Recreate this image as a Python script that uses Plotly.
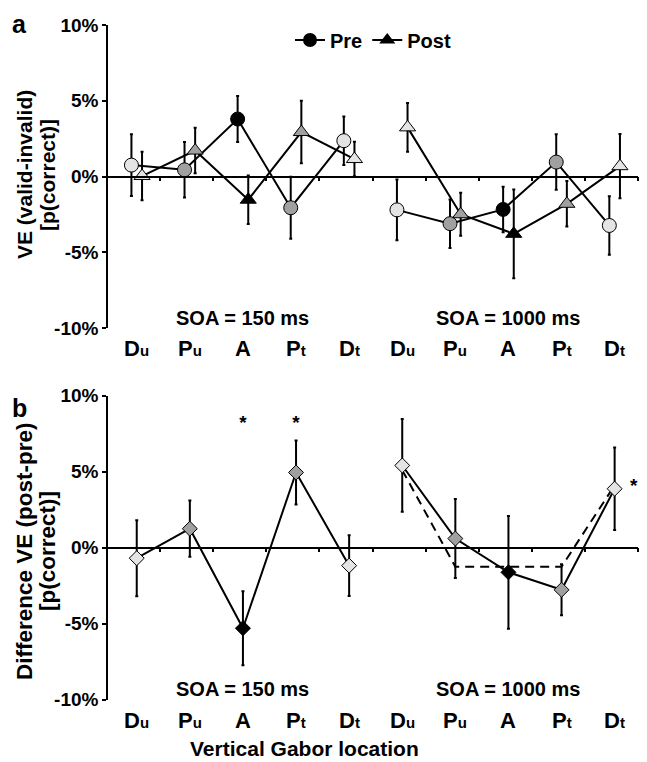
import plotly.graph_objects as go

# ---------------- data ----------------
cat_main = ["D", "P", "A", "P", "D"]
cat_sub = ["u", "u", "", "t", "t"]
soa_labels = ["SOA = 150 ms", "SOA = 1000 ms"]
y_ticks = [-10, -5, 0, 5, 10]
y_ticktext = ["-10%", "-5%", "0%", "5%", "10%"]
ytitle_a = ["VE (valid-invalid)", "[p(correct)]"]
ytitle_b = ["Difference VE (post-pre)", "[p(correct)]"]
xtitle = "Vertical Gabor location"

# Panel a: VE (valid - invalid), % p(correct); 5 locations x 2 SOAs
pre_ve = [0.76, 0.45, 3.8, -2.05, 2.37, -2.19, -3.1, -2.16, 0.96, -3.22]
pre_err = [2.03, 1.83, 1.52, 2.05, 1.6, 2.0, 1.6, 1.5, 1.83, 1.93]
post_ve = [0.04, 1.72, -1.52, 2.94, 1.16, 3.25, -2.48, -3.77, -1.79, 0.69]
post_err = [1.6, 1.5, 1.6, 2.06, 1.14, 1.6, 1.42, 2.93, 1.5, 2.12]

# Panel b: difference VE (post - pre)
diff_ve = [-0.69, 1.25, -5.3, 4.95, -1.18, 5.41, 0.6, -1.62, -2.77, 3.88]
diff_err = [2.5, 1.85, 2.43, 2.1, 2.0, 3.05, 2.6, 3.71, 1.68, 2.72]
model_1000 = [5.1, -1.25, -1.25, -1.25, 4.1]

# significance markers (index, y)
sig_idx = [2, 3, 9]
sig_y = [8.15, 8.15, 4.0]

loc_colors = ["#e4e4e4", "#a0a0a0", "#000000", "#a0a0a0", "#e4e4e4"]

# ---------------- layout helpers ----------------
W, H = 647, 762
OFF = 8  # page body margin offset of the plot div


def py(px):
    return 1 - (px - OFF) / H


def pxx(px):
    return (px - OFF) / W


X0, X1 = pxx(107), pxx(638)
A_DOM = [py(328.3), py(25)]
B_DOM = [py(699.7), py(395.7)]
FONT = "Arial, Liberation Sans, sans-serif"
CAT_W = 531 / 10  # pixels per category

fig = go.Figure()


def add_series(vals, errs, offset, symbol, size, xa, ya):
    for g in range(2):
        sl = slice(5 * g, 5 * g + 5)
        xs = [5 * g + i + 0.5 + offset for i in range(5)]
        fig.add_trace(go.Scatter(
            x=xs, y=vals[sl], xaxis=xa, yaxis=ya, mode="lines+markers",
            line=dict(color="black", width=2),
            marker=dict(symbol=symbol, size=size, color=loc_colors,
                        line=dict(color="black", width=1)),
            error_y=dict(type="data", array=errs[sl], visible=True,
                         color="black", thickness=2, width=1.5),
            showlegend=False, hoverinfo="y"))


# panel a
add_series(pre_ve, pre_err, -0.04, "circle", 14, "x", "y")
add_series(post_ve, post_err, 0.16, "triangle-up", 14, "x", "y")

# panel b: model dashed line (1000 ms)
fig.add_trace(go.Scatter(
    x=[5 + i + 0.5 + 0.06 for i in range(5)], y=model_1000, xaxis="x2", yaxis="y2",
    mode="lines", line=dict(color="black", width=2, dash="9px,6px"),
    showlegend=False, hoverinfo="skip"))
add_series(diff_ve, diff_err, 0.06, "diamond", 11.5, "x2", "y2")

# asterisks as text marks (last one sits to the right of its marker)
fig.add_trace(go.Scatter(
    x=[i + 0.5 + 0.06 + (19 / CAT_W if i == 9 else 0) for i in sig_idx], y=sig_y,
    xaxis="x2", yaxis="y2",
    mode="text", text=["<b>*</b>"] * len(sig_idx), textposition="middle center",
    textfont=dict(size=19, family=FONT, color="black"),
    cliponaxis=False, showlegend=False, hoverinfo="skip"))

# legend entries
fig.add_trace(go.Scatter(x=[None], y=[None], mode="lines+markers", name="<b>Pre</b>",
                         line=dict(color="black", width=2),
                         marker=dict(symbol="circle", size=14, color="black")))
fig.add_trace(go.Scatter(x=[None], y=[None], mode="lines+markers", name="<b>Post</b>",
                         line=dict(color="black", width=2),
                         marker=dict(symbol="triangle-up", size=14, color="black")))

annotations = []
# category labels and SOA labels
for panel, (xr, lab_y, soa_y) in enumerate([("x", 348, 318), ("x2", 720, 689)]):
    for k in range(10):
        m, s = cat_main[k % 5], cat_sub[k % 5]
        txt = "<b>" + m + (f"<span style='font-size:15px'>{s}</span>" if s else "") + "</b>"
        annotations.append(dict(x=k + 0.5 + 0.06, y=py(lab_y), xref=xr, yref="paper",
                                text=txt, showarrow=False,
                                font=dict(size=22, family=FONT, color="black"),
                                xanchor="center", yanchor="middle"))
    for g in range(2):
        annotations.append(dict(x=[2.55, 7.55][g], y=py(soa_y), xref=xr, yref="paper",
                                text=f"<b>{soa_labels[g]}</b>", showarrow=False,
                                font=dict(size=20, family=FONT, color="black"),
                                xanchor="center", yanchor="middle"))

# y axis titles (one annotation per line)
for lines, cy, fs in ((ytitle_a, 175, 21), (ytitle_b, 551, 22.5)):
    for txt, cx in zip(lines, (24, 47)):
        annotations.append(dict(x=pxx(cx), y=py(cy), xref="paper", yref="paper",
                                text=f"<b>{txt}</b>", textangle=-90, showarrow=False,
                                font=dict(size=fs, family=FONT, color="black"),
                                xanchor="center", yanchor="middle"))
# x axis title
annotations.append(dict(x=pxx(304), y=py(748), xref="paper", yref="paper",
                        text=f"<b>{xtitle}</b>", showarrow=False,
                        font=dict(size=21, family=FONT, color="black"),
                        xanchor="center", yanchor="middle"))
# panel letters
for letter, ly in (("a", 8), ("b", 392)):
    annotations.append(dict(x=pxx(19), y=py(ly), xref="paper", yref="paper",
                            text=f"<b>{letter}</b>", showarrow=False,
                            font=dict(size=25, family=FONT, color="black"),
                            xanchor="center", yanchor="top"))


def xaxis_cfg(pos):
    return dict(domain=[X0, X1], range=[0, 10], anchor="free", position=pos,
                showline=True, linecolor="black", linewidth=1.5,
                ticks="outside", tickvals=list(range(11)), ticklen=4, tickwidth=1.5,
                tickcolor="black", showticklabels=False, showgrid=False, zeroline=False,
                fixedrange=True)


def yaxis_cfg(dom):
    return dict(domain=dom, range=[-10, 10], anchor="free", position=X0,
                showline=True, linecolor="black", linewidth=1.5,
                ticks="outside", tickvals=y_ticks, ticktext=y_ticktext,
                ticklen=4, tickwidth=1.5, tickcolor="black",
                tickfont=dict(size=19, family=FONT, color="black", weight="bold"),
                showgrid=False, zeroline=False, fixedrange=True, automargin=False)


fig.update_layout(
    width=W, height=H, margin=dict(l=0, r=0, t=0, b=0, autoexpand=False),
    paper_bgcolor="white", plot_bgcolor="white",
    xaxis=xaxis_cfg(sum(A_DOM) / 2), yaxis=yaxis_cfg(A_DOM),
    xaxis2=xaxis_cfg(sum(B_DOM) / 2), yaxis2=yaxis_cfg(B_DOM),
    showlegend=True,
    legend=dict(orientation="h", x=pxx(290), y=py(40), xanchor="left", yanchor="middle",
                font=dict(size=20, family=FONT, color="black"),
                bgcolor="rgba(0,0,0,0)", itemwidth=30, tracegroupgap=0),
    annotations=annotations,
)

fig.write_html("out.html")
